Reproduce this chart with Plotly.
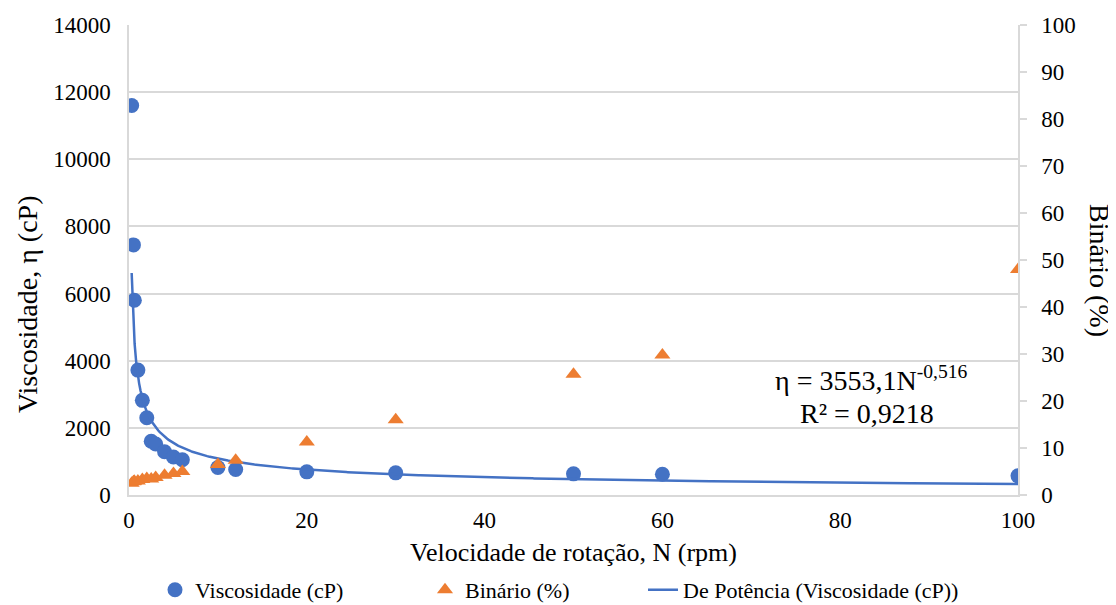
import numpy as np
import plotly.graph_objects as go

# Data
rpm = [0.3, 0.5, 0.6, 1, 1.5, 2, 2.5, 3, 4, 5, 6, 10, 12, 20, 30, 50, 60, 100]
viscosidade = [11600, 7450, 5800, 3720, 2820, 2300, 1600, 1520, 1290, 1130, 1050,
               820, 760, 690, 660, 630, 620, 570]
binario = [2.5, 2.8, 2.9, 3.0, 3.3, 3.5, 3.4, 3.7, 4.2, 4.6, 5.0,
           6.5, 7.4, 11.3, 16.0, 25.7, 29.8, 48.0]

# Power trendline coefficients (as shown on the chart)
fit_a = 3553.1
fit_b = -0.516
fit_x = np.linspace(0.3, 100, 600)
fit_y = fit_a * fit_x ** fit_b

FAM = "Times New Roman"
BLUE = "#4472C4"
ORANGE = "#ED7D31"
GRID = "#D9D9D9"


def f(size):
    return dict(family=FAM, size=size, color="#000000")


fig = go.Figure()
fig.add_trace(go.Scatter(x=rpm, y=viscosidade, mode="markers", name="Viscosidade (cP)",
                         legend="legend",
                         marker=dict(symbol="circle", size=15, color=BLUE)))
fig.add_trace(go.Scatter(x=rpm, y=binario, mode="markers", name="Binário (%)", yaxis="y2",
                         legend="legend2",
                         marker=dict(symbol="triangle-up", size=14, color=ORANGE)))
fig.add_trace(go.Scatter(x=fit_x, y=fit_y, mode="lines", name="De Potência (Viscosidade (cP))",
                         legend="legend3",
                         line=dict(color=BLUE, width=2.5)))

LEG_Y = -0.202
leg_common = dict(orientation="h", y=LEG_Y, yanchor="middle", xanchor="left",
                  font=f(22), bgcolor="rgba(0,0,0,0)", borderwidth=0)

# page body has an 8px margin: figure is offset by 8px, so size it accordingly
fig.update_layout(
    width=1108, height=597,
    margin=dict(l=121, r=98, t=17, b=110, autoexpand=False),
    paper_bgcolor="white", plot_bgcolor="white",
    font=f(22),
    showlegend=True,
    legend=dict(x=(155 - 129) / 889, **leg_common),
    legend2=dict(x=(425 - 129) / 889, **leg_common),
    legend3=dict(x=(643 - 129) / 889, **leg_common),
    xaxis=dict(range=[0, 100], dtick=20, showgrid=False, zeroline=False,
               showline=True, linecolor=GRID, linewidth=1.5, ticks="",
               tickfont=f(23), tickformat="d", ticklabelstandoff=4,
               title=dict(text="Velocidade de rotação, N (rpm)", font=f(26), standoff=10)),
    yaxis=dict(range=[0, 14000], dtick=2000, showgrid=True, gridcolor=GRID, gridwidth=1.5,
               zeroline=False, showline=True, linecolor=GRID, linewidth=1.5, ticks="",
               tickfont=f(23), tickformat="d", ticklabelstandoff=12),
    yaxis2=dict(range=[0, 100], dtick=10, overlaying="y", side="right", showgrid=False,
                zeroline=False, showline=True, linecolor=GRID, linewidth=1.5,
                ticks="outside", ticklen=7, tickcolor=GRID, tickwidth=1.5,
                tickfont=f(23), tickformat="d", ticklabelstandoff=10),
)

# axis titles placed as in the reference (slightly below the plot's middle)
fig.add_annotation(xref="paper", yref="paper", x=(27 - 129) / 889, y=1 - (305 - 25) / 470,
                   text="Viscosidade, η (cP)", textangle=-90, showarrow=False, font=f(28),
                   xanchor="center", yanchor="middle")
fig.add_annotation(xref="paper", yref="paper", x=(1100 - 129) / 889, y=1 - (270 - 25) / 470,
                   text="Binário (%)", textangle=90, showarrow=False, font=f(28),
                   xanchor="center", yanchor="middle")
fig.add_annotation(xref="paper", yref="paper", x=(871 - 129) / 889, y=1 - (378 - 25) / 470,
                   text="η = 3553,1N<sup>-0,516</sup>",
                   showarrow=False, xanchor="center", yanchor="middle", font=f(28))
fig.add_annotation(xref="paper", yref="paper", x=(867 - 129) / 889, y=1 - (413 - 25) / 470,
                   text="R² = 0,9218",
                   showarrow=False, xanchor="center", yanchor="middle", font=f(28))

fig.write_html("out.html")
